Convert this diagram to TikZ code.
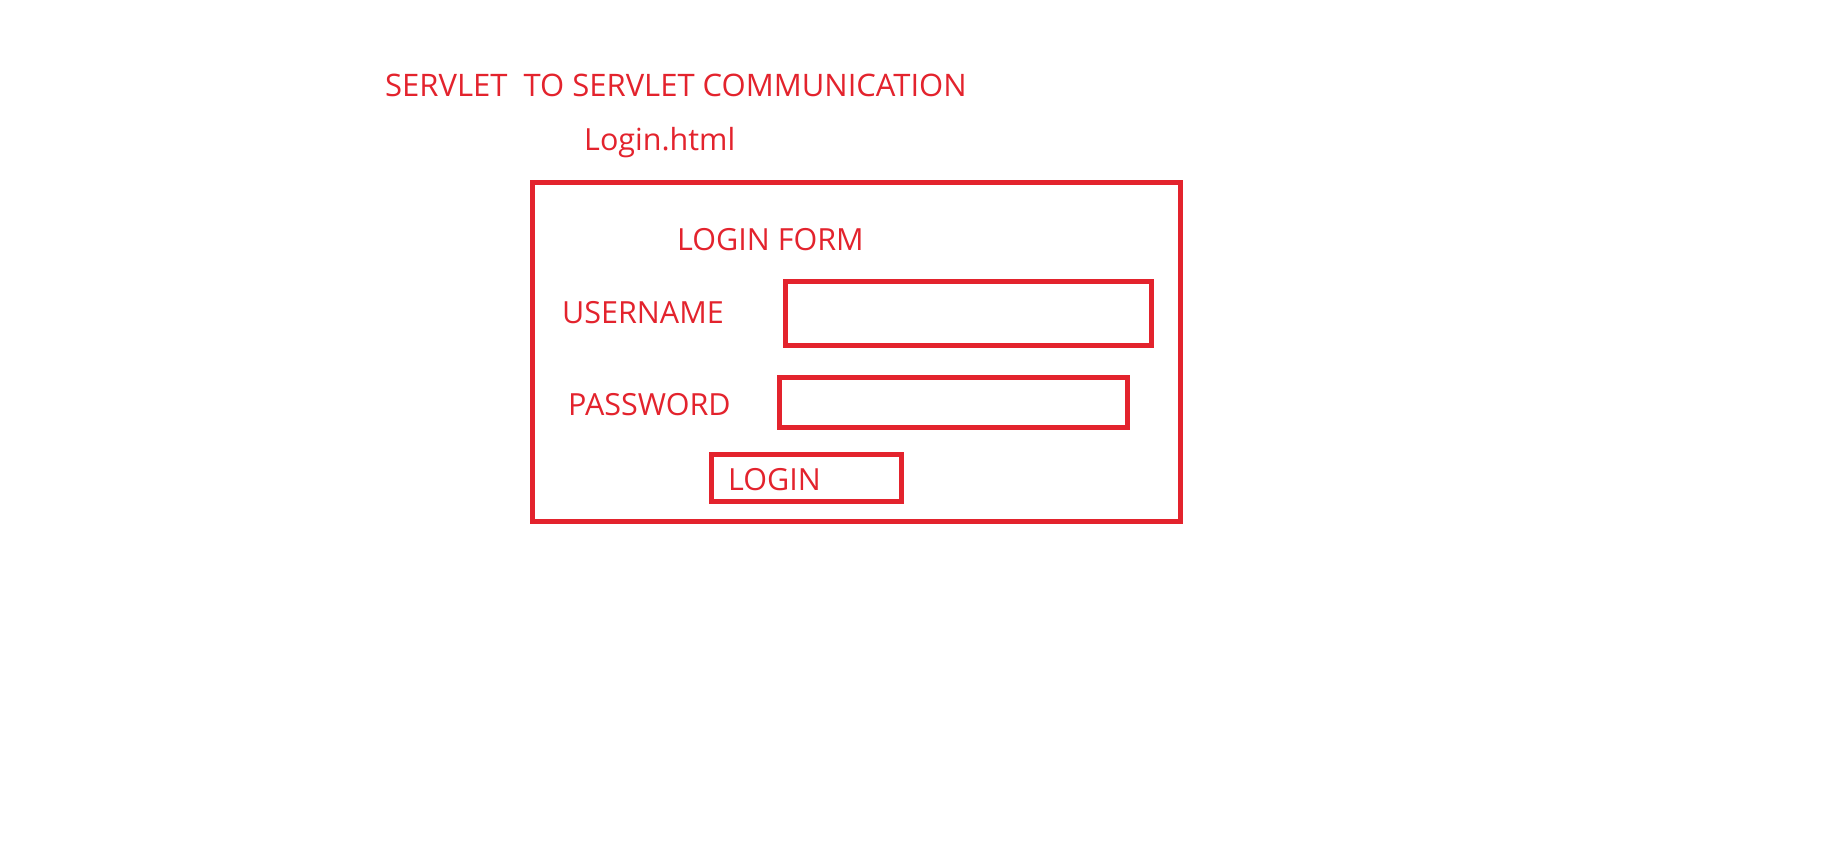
\documentclass[tikz,border=0pt]{standalone}
\usepackage{fontspec}
\setmainfont{Open Sans}
\definecolor{fred}{RGB}{227,35,45}
\tikzset{
  lbl/.style={anchor=base west, inner sep=0pt, text=fred, font=\fontsize{30.5}{36}\selectfont},
  frame/.style={draw=fred, line width=5pt, inner sep=0pt, rectangle}
}
\begin{document}
\begin{tikzpicture}[x=1pt,y=-1pt]
\useasboundingbox[fill=white] (0,0) rectangle (1831,846);
\node[lbl, font=\fontsize{31}{36}\selectfont] (title) at (385,96) {SERVLET\ \ TO SERVLET COMMUNICATION};
\node[lbl] (file) at (584,150) {Login.html};
\node[frame, minimum width=648pt, minimum height=339.5pt] (form) at (856,351.75) {};
\node[lbl] (heading) at (677,250) {LOGIN FORM};
\node[lbl] (ulabel) at (562,323) {USERNAME};
\node[frame, minimum width=366pt, minimum height=64pt] (ubox) at (968.4,313.5) {};
\node[lbl] (plabel) at (568,415) {PASSWORD};
\node[frame, minimum width=348.5pt, minimum height=50pt] (pbox) at (953.6,402) {};
\node[frame, minimum width=190pt, minimum height=47pt] (btn) at (806.4,477.5) {};
\node[lbl] (btntext) at (728,490) {LOGIN};
\end{tikzpicture}
\end{document}
